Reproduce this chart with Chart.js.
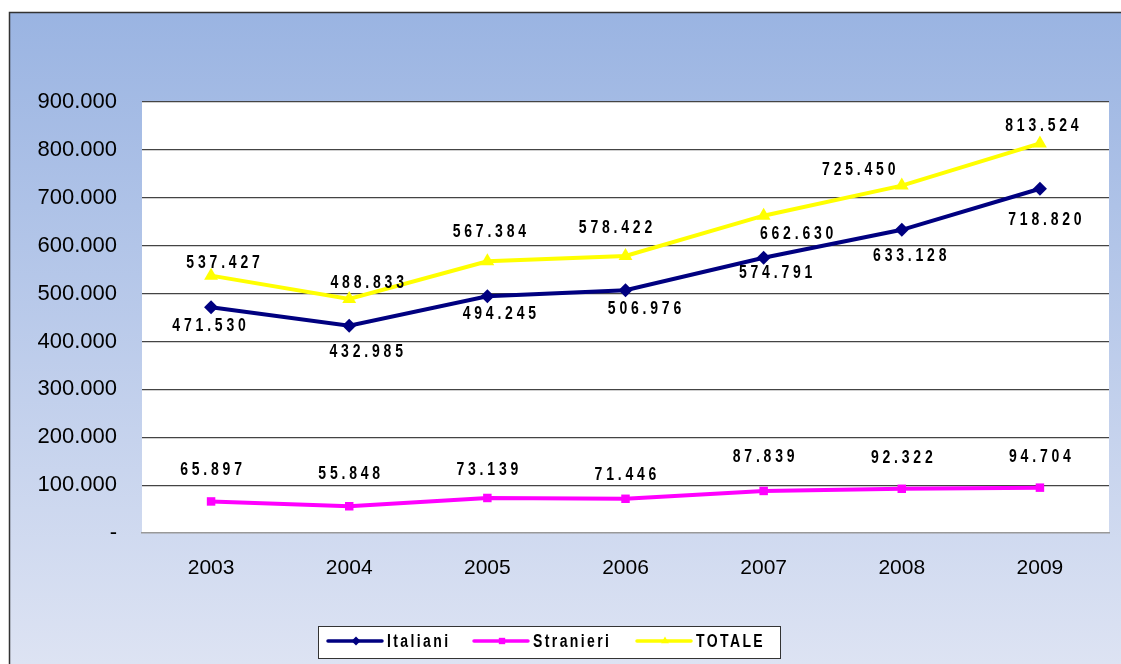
<!DOCTYPE html>
<html><head><meta charset="utf-8">
<script src="https://cdn.jsdelivr.net/npm/chart.js@4/dist/chart.umd.min.js"></script>
<style>html,body{margin:0;padding:0;background:#fff}#wrap{width:1121px;height:664px;position:relative}</style>
</head><body><div id="wrap"><canvas id="c" width="1121" height="664"></canvas></div>
<script>
const categories = ['2003','2004','2005','2006','2007','2008','2009'];
const italiani  = [471530, 432985, 494245, 506976, 574791, 633128, 718820];
const stranieri = [65897, 55848, 73139, 71446, 87839, 92322, 94704];
const totale    = [537427, 488833, 567384, 578422, 662630, 725450, 813524];
const yTicks = [0,100000,200000,300000,400000,500000,600000,700000,800000,900000];

// label offsets (style only)
const offIt = [[-2,19],[17,27],[12,18],[19,19],[12,15],[8,26],[5,31]];
const offSt = [[0,-31],[0,-32],[0,-28],[0,-24],[0,-34],[0,-31],[0,-30]];
const offTo = [[12,-12],[18,-16],[2,-29],[-10,-28],[33,19],[-43,-15],[2,-17]];

function fmt(v){ if(v===0) return '-'; return v.toString().replace(/\B(?=(\d{3})+(?!\d))/g,'.'); }

const FONT = '"Liberation Sans", Arial, sans-serif';

const bgPlugin = {
  id:'bg',
  beforeDraw(chart){
    const ctx = chart.ctx, W = chart.width, H = chart.height;
    ctx.save();
    ctx.fillStyle='#fff'; ctx.fillRect(0,0,W,H);
    const g = ctx.createLinearGradient(0,12,0,H);
    g.addColorStop(0,'#9ab4e2'); g.addColorStop(1,'#dde3f3');
    ctx.fillStyle=g; ctx.fillRect(9,12,W-9,H-12);
    ctx.strokeStyle='#333'; ctx.lineWidth=1.5;
    ctx.beginPath(); ctx.moveTo(9.5,H); ctx.lineTo(9.5,12.5); ctx.lineTo(W,12.5); ctx.stroke();
    const a = chart.chartArea;
    ctx.fillStyle='#fff'; ctx.fillRect(a.left,a.top,a.right-a.left,a.bottom-a.top);
    ctx.restore();
  }
};

function stretchedText(ctx, t, x, y, sy){
  ctx.save();
  ctx.translate(x, y);
  ctx.scale(1, sy);
  ctx.fillText(t, 0, 0);
  ctx.restore();
}

const labelPlugin = {
  id:'lbl',
  afterDatasetsDraw(chart){
    const ctx = chart.ctx;
    ctx.save();
    ctx.font = 'bold 14px '+FONT;
    ctx.letterSpacing = '3.8px';
    ctx.fillStyle = '#000';
    ctx.textAlign = 'center'; ctx.textBaseline = 'middle';
    const offs = [offIt, offSt, offTo];
    chart.data.datasets.forEach((ds,i)=>{
      const meta = chart.getDatasetMeta(i);
      meta.data.forEach((pt,j)=>{
        const t = fmt(ds.data[j]);
        stretchedText(ctx, t, pt.x + offs[i][j][0] + 1.9, pt.y + offs[i][j][1], 1.25);
      });
    });
    ctx.restore();
  }
};

const legendPlugin = {
  id:'lgd',
  afterDraw(chart){
    const ctx = chart.ctx;
    ctx.save();
    ctx.fillStyle='#fff'; ctx.fillRect(318,626,462,32);
    ctx.strokeStyle='#333'; ctx.lineWidth=1; ctx.strokeRect(318.5,626.5,462,32);
    const items = [
      {x:328, c:'#000080', s:'rectRot', t:'Italiani'},
      {x:474, c:'#ff00ff', s:'rect', t:'Stranieri'},
      {x:637, c:'#ffff00', s:'triangle', t:'TOTALE'}
    ];
    const y = 641;
    items.forEach(it=>{
      ctx.strokeStyle=it.c; ctx.lineWidth=3.5; ctx.lineCap='round';
      ctx.beginPath(); ctx.moveTo(it.x,y); ctx.lineTo(it.x+54,y); ctx.stroke();
      ctx.fillStyle=it.c;
      Chart.helpers.drawPoint(ctx,{pointStyle:it.s,radius:4.5,borderWidth:0},it.x+28,y);
      ctx.fillStyle='#000';
      ctx.font='bold 14px '+FONT; ctx.letterSpacing='2.4px';
      ctx.textAlign='left'; ctx.textBaseline='middle';
      stretchedText(ctx, it.t, it.x+59, y+1, 1.25);
    });
    ctx.restore();
  }
};

new Chart(document.getElementById('c'),{
  type:'line',
  data:{
    labels:categories,
    datasets:[
      {label:'Italiani', data:italiani, borderColor:'#000080', backgroundColor:'#000080', borderWidth:4,
       pointStyle:'rectRot', pointRadius:7, pointBorderWidth:0, tension:0},
      {label:'Stranieri', data:stranieri, borderColor:'#ff00ff', backgroundColor:'#ff00ff', borderWidth:4,
       pointStyle:'rect', pointRadius:6, pointBorderWidth:0, tension:0},
      {label:'TOTALE', data:totale, borderColor:'#ffff00', backgroundColor:'#ffff00', borderWidth:4,
       pointStyle:'triangle', pointRadius:8, pointBorderWidth:0, tension:0}
    ]
  },
  options:{
    responsive:false, animation:false,
    layout:{padding:{left:0,top:102,right:12,bottom:71}},
    plugins:{legend:{display:false}, tooltip:{enabled:false}},
    scales:{
      x:{
        offset:true,
        grid:{display:false, drawTicks:false},
        border:{display:true, color:'#999', width:1.5},
        ticks:{font:{family:FONT,size:21}, color:'#000', padding:23},
        afterFit(s){ s.height = 60; }
      },
      y:{
        min:0, max:900000,
        afterBuildTicks(s){ s.ticks = yTicks.map(v=>({value:v})); },
        grid:{color:(c)=> c.tick && c.tick.value===0 ? 'rgba(0,0,0,0)' : '#444', lineWidth:1.2, drawTicks:false},
        border:{display:false},
        ticks:{font:{family:FONT,size:22}, color:'#000', padding:25, callback:(v)=>fmt(v)},
        afterFit(s){ s.width = 142; }
      }
    }
  },
  plugins:[bgPlugin,labelPlugin,legendPlugin]
});
</script></body></html>
